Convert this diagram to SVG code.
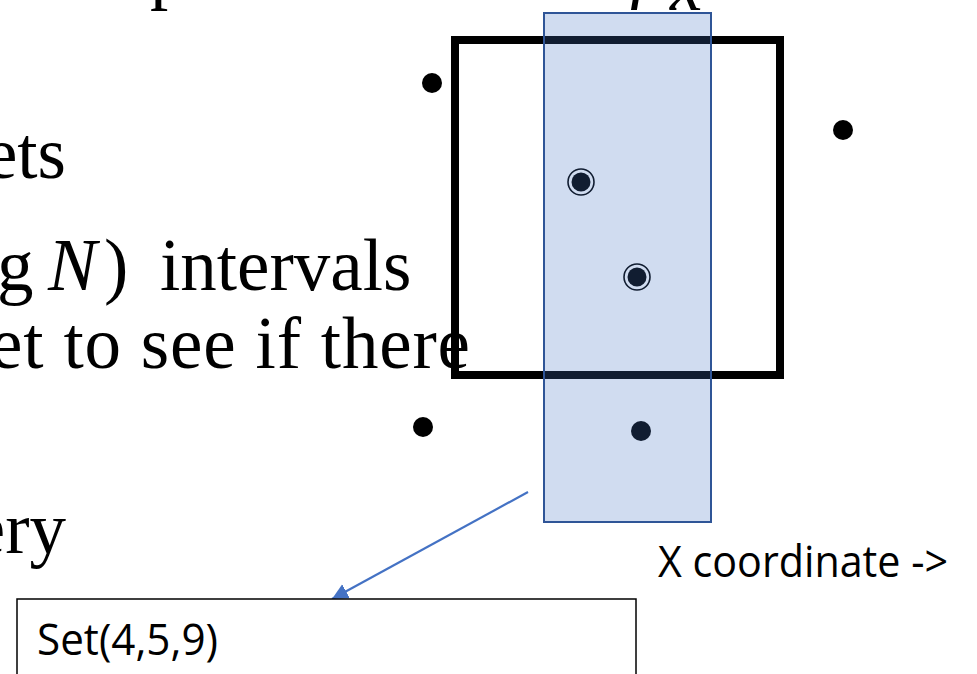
<svg xmlns="http://www.w3.org/2000/svg" width="977" height="674" viewBox="0 0 977 674">
<style>
.serif{font-family:"Liberation Serif","Times New Roman",serif;font-size:73px;fill:#000}
.it{font-style:italic}
.sans{font-family:"Open Sans","Noto Sans",sans-serif;font-size:44px;fill:#000}
.dot{fill:#000}
.ring{fill:none;stroke:#000;stroke-width:1.6}
</style>
<defs>
<marker id="ah" markerUnits="userSpaceOnUse" markerWidth="18" markerHeight="18" refX="16" refY="8" orient="auto">
<path d="M0,0 L16,8 L0,16 z" fill="#4472C4"/>
</marker>
</defs>
<rect width="977" height="674" fill="#fff"/>
<g id="text-lines">
<text class="serif" x="150" y="-5">p</text>
<text class="serif it" x="628" y="10">r</text>
<text class="serif it" x="670" y="10">x</text>
<text class="serif" x="66" y="178" text-anchor="end">ets</text>
<text class="serif" y="290"><tspan x="-3">g</tspan><tspan class="it" x="48">N</tspan><tspan x="104">)</tspan><tspan x="160">intervals</tspan></text>
<text class="serif" x="-10" y="368" textLength="480" lengthAdjust="spacing">et to see if there</text>
<text class="serif" x="66" y="553" text-anchor="end">ery</text>
</g>
<g id="query-frame">
<rect x="455" y="40" width="325" height="335" fill="none" stroke="#000" stroke-width="8"/>
</g>
<g id="points">
<circle class="dot" cx="432" cy="83" r="10"/>
<circle class="dot" cx="843" cy="130" r="10"/>
<circle class="dot" cx="423" cy="427" r="10"/>
<circle class="dot" cx="641" cy="431" r="10"/>
<circle class="dot" cx="581" cy="182" r="9.5"/>
<circle class="ring" cx="581" cy="182" r="13"/>
<circle class="dot" cx="637" cy="277" r="9.5"/>
<circle class="ring" cx="637" cy="277" r="13"/>
</g>
<g id="x-strip">
<rect x="544" y="13" width="167" height="509" fill="#4472C4" fill-opacity="0.25" stroke="#2F5597" stroke-width="2"/>
</g>
<g id="connectors">
<line x1="528" y1="492" x2="332" y2="599" stroke="#4472C4" stroke-width="2.2" marker-end="url(#ah)"/>
</g>
<g id="x-label">
<text class="sans" x="658" y="577" textLength="290" lengthAdjust="spacingAndGlyphs">X coordinate -&gt;</text>
</g>
<g id="set-box">
<rect x="17" y="599" width="619" height="110" fill="#fff" stroke="#000" stroke-width="1.5"/>
<text class="sans" x="37" y="655" textLength="181" lengthAdjust="spacingAndGlyphs">Set(4,5,9)</text>
</g>
</svg>
